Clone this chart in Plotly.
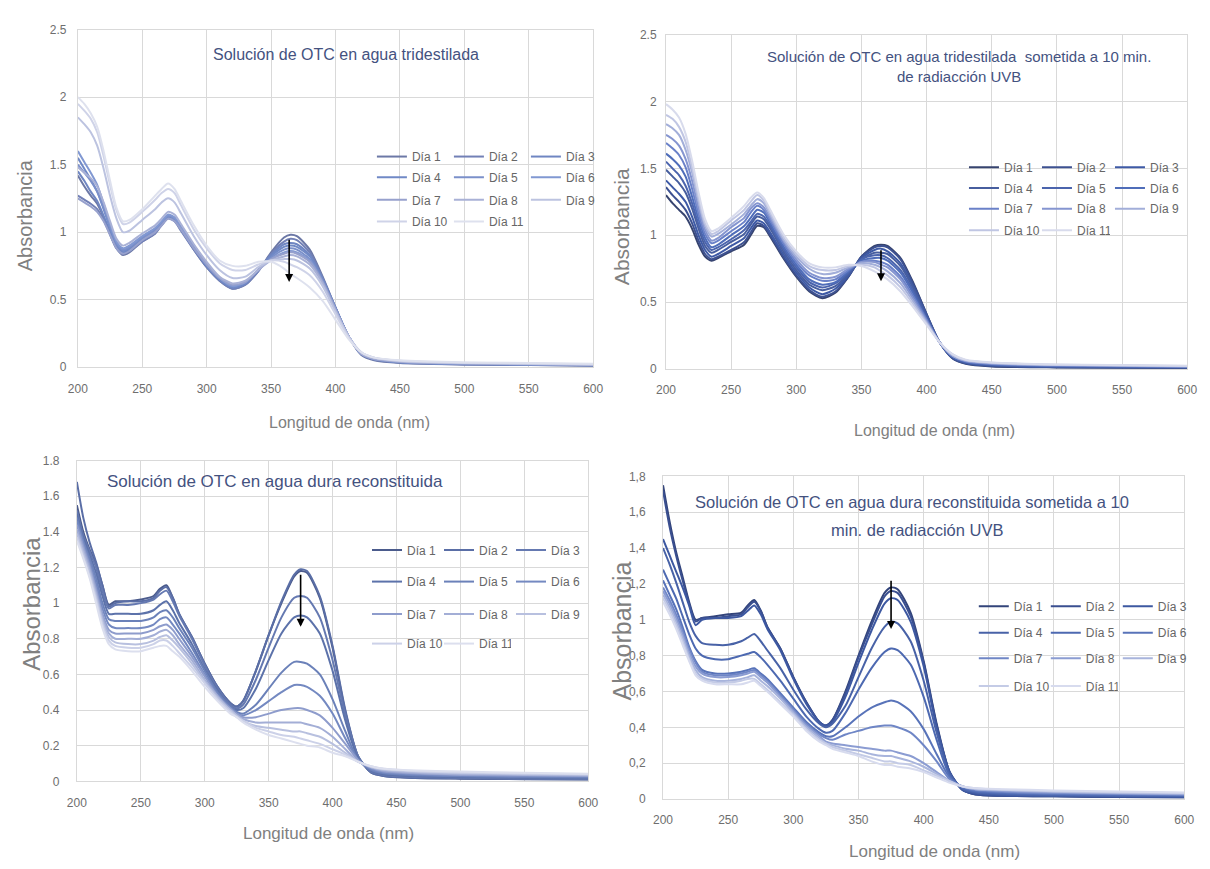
import plotly.graph_objects as go

W, H = 1210, 869

# Wavelength grids (nm)
WL_TRIDEST = [200, 205, 210, 215, 220, 225, 230, 235, 240, 250, 260, 265, 270, 275, 280, 290, 300,
              310, 320, 330, 340, 350, 360, 365, 370, 380, 390, 400, 410, 420, 430, 450, 500, 600]
WL_DURA = [200, 205, 210, 215, 220, 225, 230, 240, 250, 260, 265, 270, 275, 280, 290, 300, 310, 320,
           325, 330, 340, 350, 360, 370, 375, 380, 390, 400, 410, 420, 430, 440, 460, 500, 550, 600]

DIAS = ["Día 1", "Día 2", "Día 3", "Día 4", "Día 5", "Día 6",
        "Día 7", "Día 8", "Día 9", "Día 10", "Día 11"]

X_TICKS = [200, 250, 300, 350, 400, 450, 500, 550, 600]
Y_TICKS_TOP = [0, 0.5, 1, 1.5, 2, 2.5]
Y_TICKS_BOT = [0, 0.2, 0.4, 0.6, 0.8, 1, 1.2, 1.4, 1.6, 1.8]
Y_TEXT_BOT_COMMA = ["0", "0,2", "0,4", "0,6", "0,8", "1", "1,2", "1,4", "1,6", "1,8"]

# Absorbance tables: one row per wavelength, columns = Día 1 ... Día 11
ABS_TRIDEST = [
    [1.42, 1.27, 1.45, 1.55, 1.50, 1.60, 1.25, 1.48, 1.85, 1.95, 2.00],
    [1.34, 1.24, 1.38, 1.47, 1.44, 1.52, 1.22, 1.44, 1.80, 1.90, 1.95],
    [1.27, 1.21, 1.30, 1.39, 1.38, 1.44, 1.19, 1.40, 1.74, 1.84, 1.88],
    [1.21, 1.17, 1.23, 1.30, 1.30, 1.35, 1.15, 1.34, 1.64, 1.74, 1.78],
    [1.11, 1.09, 1.12, 1.17, 1.18, 1.21, 1.08, 1.22, 1.47, 1.56, 1.60],
    [0.99, 0.98, 1.00, 1.03, 1.04, 1.06, 0.98, 1.08, 1.27, 1.35, 1.38],
    [0.88, 0.88, 0.89, 0.91, 0.92, 0.93, 0.88, 0.95, 1.10, 1.16, 1.18],
    [0.83, 0.84, 0.85, 0.86, 0.87, 0.88, 0.84, 0.90, 1.00, 1.06, 1.08],
    [0.85, 0.86, 0.87, 0.88, 0.89, 0.90, 0.86, 0.92, 1.01, 1.07, 1.09],
    [0.93, 0.93, 0.94, 0.95, 0.96, 0.97, 0.94, 0.99, 1.09, 1.15, 1.17],
    [0.99, 0.99, 1.00, 1.01, 1.02, 1.03, 1.00, 1.05, 1.17, 1.24, 1.27],
    [1.06, 1.05, 1.06, 1.07, 1.07, 1.08, 1.05, 1.10, 1.22, 1.29, 1.32],
    [1.11, 1.10, 1.11, 1.12, 1.12, 1.13, 1.10, 1.15, 1.25, 1.32, 1.36],
    [1.09, 1.08, 1.09, 1.10, 1.10, 1.11, 1.08, 1.13, 1.22, 1.29, 1.32],
    [1.02, 1.01, 1.02, 1.03, 1.03, 1.04, 1.02, 1.06, 1.14, 1.20, 1.23],
    [0.87, 0.87, 0.88, 0.88, 0.89, 0.90, 0.88, 0.91, 0.97, 1.02, 1.05],
    [0.74, 0.74, 0.75, 0.75, 0.76, 0.77, 0.76, 0.78, 0.83, 0.88, 0.90],
    [0.64, 0.64, 0.65, 0.65, 0.66, 0.66, 0.66, 0.67, 0.72, 0.77, 0.79],
    [0.58, 0.58, 0.59, 0.59, 0.60, 0.60, 0.61, 0.62, 0.66, 0.72, 0.75],
    [0.61, 0.61, 0.62, 0.62, 0.63, 0.63, 0.63, 0.64, 0.67, 0.72, 0.75],
    [0.71, 0.71, 0.72, 0.72, 0.72, 0.72, 0.72, 0.72, 0.74, 0.76, 0.78],
    [0.85, 0.84, 0.83, 0.82, 0.81, 0.80, 0.80, 0.79, 0.79, 0.79, 0.78],
    [0.96, 0.93, 0.91, 0.89, 0.87, 0.85, 0.84, 0.82, 0.80, 0.78, 0.73],
    [0.98, 0.95, 0.92, 0.90, 0.88, 0.86, 0.85, 0.83, 0.80, 0.76, 0.69],
    [0.97, 0.94, 0.91, 0.89, 0.87, 0.85, 0.84, 0.82, 0.79, 0.74, 0.66],
    [0.87, 0.85, 0.83, 0.82, 0.80, 0.79, 0.78, 0.76, 0.73, 0.68, 0.59],
    [0.67, 0.66, 0.65, 0.65, 0.64, 0.63, 0.63, 0.62, 0.60, 0.56, 0.49],
    [0.44, 0.44, 0.44, 0.44, 0.43, 0.43, 0.43, 0.42, 0.41, 0.39, 0.35],
    [0.23, 0.23, 0.23, 0.23, 0.23, 0.23, 0.23, 0.23, 0.23, 0.22, 0.21],
    [0.09, 0.095, 0.10, 0.10, 0.10, 0.10, 0.10, 0.10, 0.11, 0.11, 0.11],
    [0.05, 0.055, 0.06, 0.06, 0.06, 0.06, 0.06, 0.065, 0.07, 0.07, 0.07],
    [0.03, 0.035, 0.035, 0.037, 0.038, 0.04, 0.04, 0.042, 0.045, 0.047, 0.05],
    [0.02, 0.02, 0.022, 0.024, 0.025, 0.026, 0.027, 0.028, 0.03, 0.032, 0.035],
    [0.01, 0.012, 0.013, 0.014, 0.015, 0.016, 0.017, 0.018, 0.02, 0.022, 0.025],
]

ABS_TRIDEST_UVB = [
    [1.30, 1.36, 1.41, 1.49, 1.55, 1.61, 1.69, 1.75, 1.83, 1.90, 1.98],
    [1.24, 1.30, 1.36, 1.44, 1.50, 1.57, 1.65, 1.72, 1.80, 1.87, 1.94],
    [1.19, 1.25, 1.31, 1.39, 1.45, 1.52, 1.60, 1.67, 1.75, 1.81, 1.88],
    [1.14, 1.19, 1.25, 1.32, 1.37, 1.44, 1.51, 1.57, 1.64, 1.70, 1.76],
    [1.05, 1.09, 1.14, 1.20, 1.24, 1.29, 1.35, 1.41, 1.47, 1.51, 1.56],
    [0.93, 0.96, 1.00, 1.05, 1.08, 1.12, 1.16, 1.20, 1.25, 1.28, 1.32],
    [0.84, 0.86, 0.89, 0.92, 0.95, 0.98, 1.01, 1.04, 1.07, 1.09, 1.12],
    [0.81, 0.82, 0.84, 0.87, 0.89, 0.91, 0.94, 0.96, 0.99, 1.01, 1.03],
    [0.83, 0.84, 0.86, 0.89, 0.91, 0.93, 0.96, 0.98, 1.01, 1.03, 1.05],
    [0.88, 0.89, 0.92, 0.95, 0.97, 1.00, 1.03, 1.06, 1.08, 1.11, 1.13],
    [0.93, 0.95, 0.98, 1.01, 1.04, 1.07, 1.10, 1.13, 1.16, 1.19, 1.22],
    [1.00, 1.02, 1.05, 1.08, 1.10, 1.13, 1.17, 1.20, 1.22, 1.25, 1.28],
    [1.07, 1.09, 1.11, 1.14, 1.16, 1.19, 1.22, 1.24, 1.27, 1.30, 1.32],
    [1.06, 1.07, 1.09, 1.12, 1.14, 1.17, 1.19, 1.21, 1.24, 1.26, 1.28],
    [0.99, 1.00, 1.02, 1.05, 1.07, 1.09, 1.11, 1.13, 1.15, 1.17, 1.19],
    [0.83, 0.84, 0.86, 0.88, 0.90, 0.92, 0.94, 0.96, 0.97, 0.99, 1.01],
    [0.69, 0.70, 0.72, 0.74, 0.76, 0.78, 0.80, 0.82, 0.84, 0.86, 0.88],
    [0.58, 0.59, 0.61, 0.63, 0.65, 0.67, 0.70, 0.72, 0.75, 0.77, 0.79],
    [0.53, 0.54, 0.56, 0.59, 0.61, 0.63, 0.66, 0.68, 0.71, 0.74, 0.76],
    [0.57, 0.58, 0.60, 0.62, 0.64, 0.65, 0.67, 0.69, 0.72, 0.74, 0.76],
    [0.69, 0.69, 0.70, 0.71, 0.72, 0.73, 0.74, 0.75, 0.76, 0.77, 0.78],
    [0.84, 0.84, 0.83, 0.82, 0.82, 0.81, 0.80, 0.80, 0.79, 0.78, 0.77],
    [0.92, 0.91, 0.89, 0.87, 0.85, 0.83, 0.81, 0.80, 0.78, 0.76, 0.73],
    [0.93, 0.92, 0.90, 0.87, 0.85, 0.83, 0.80, 0.78, 0.76, 0.73, 0.70],
    [0.92, 0.91, 0.88, 0.86, 0.83, 0.81, 0.78, 0.76, 0.73, 0.70, 0.67],
    [0.83, 0.82, 0.79, 0.77, 0.74, 0.72, 0.69, 0.67, 0.64, 0.61, 0.58],
    [0.64, 0.63, 0.61, 0.60, 0.58, 0.56, 0.54, 0.52, 0.50, 0.48, 0.46],
    [0.41, 0.41, 0.40, 0.39, 0.38, 0.37, 0.37, 0.36, 0.35, 0.34, 0.33],
    [0.20, 0.20, 0.20, 0.20, 0.20, 0.20, 0.20, 0.20, 0.20, 0.20, 0.20],
    [0.08, 0.08, 0.09, 0.09, 0.09, 0.09, 0.10, 0.10, 0.10, 0.11, 0.11],
    [0.040, 0.043, 0.046, 0.049, 0.052, 0.055, 0.058, 0.061, 0.064, 0.067, 0.070],
    [0.020, 0.023, 0.026, 0.029, 0.032, 0.035, 0.038, 0.041, 0.044, 0.047, 0.050],
    [0.012, 0.014, 0.016, 0.019, 0.021, 0.023, 0.026, 0.028, 0.030, 0.033, 0.035],
    [0.008, 0.010, 0.011, 0.013, 0.015, 0.016, 0.018, 0.020, 0.021, 0.023, 0.025],
]

ABS_DURA = [
    [1.55, 1.68, 1.52, 1.50, 1.48, 1.46, 1.44, 1.41, 1.39, 1.37, 1.35],
    [1.40, 1.48, 1.38, 1.37, 1.35, 1.34, 1.32, 1.30, 1.28, 1.26, 1.25],
    [1.30, 1.34, 1.29, 1.27, 1.25, 1.23, 1.21, 1.19, 1.17, 1.15, 1.14],
    [1.22, 1.23, 1.20, 1.17, 1.14, 1.11, 1.08, 1.06, 1.04, 1.02, 1.00],
    [1.10, 1.10, 1.07, 1.04, 1.00, 0.97, 0.94, 0.92, 0.90, 0.88, 0.86],
    [0.99, 0.98, 0.97, 0.94, 0.91, 0.88, 0.85, 0.83, 0.81, 0.79, 0.77],
    [1.01, 1.00, 0.99, 0.94, 0.90, 0.86, 0.83, 0.80, 0.78, 0.76, 0.74],
    [1.01, 1.01, 0.99, 0.94, 0.90, 0.86, 0.83, 0.80, 0.77, 0.75, 0.73],
    [1.02, 1.01, 1.00, 0.94, 0.90, 0.86, 0.83, 0.80, 0.77, 0.75, 0.73],
    [1.04, 1.03, 1.02, 0.96, 0.92, 0.88, 0.85, 0.82, 0.79, 0.77, 0.75],
    [1.08, 1.07, 1.05, 0.99, 0.95, 0.91, 0.87, 0.84, 0.81, 0.79, 0.76],
    [1.10, 1.09, 1.07, 1.01, 0.96, 0.92, 0.88, 0.85, 0.82, 0.79, 0.76],
    [1.03, 1.03, 1.01, 0.96, 0.92, 0.88, 0.85, 0.82, 0.79, 0.76, 0.73],
    [0.94, 0.94, 0.93, 0.89, 0.86, 0.83, 0.80, 0.77, 0.75, 0.72, 0.70],
    [0.81, 0.81, 0.80, 0.77, 0.75, 0.72, 0.70, 0.68, 0.66, 0.64, 0.62],
    [0.66, 0.66, 0.65, 0.63, 0.62, 0.60, 0.59, 0.57, 0.56, 0.55, 0.53],
    [0.53, 0.53, 0.52, 0.51, 0.50, 0.49, 0.48, 0.48, 0.47, 0.46, 0.45],
    [0.44, 0.44, 0.43, 0.42, 0.42, 0.41, 0.41, 0.40, 0.40, 0.39, 0.38],
    [0.42, 0.42, 0.41, 0.40, 0.39, 0.38, 0.38, 0.37, 0.37, 0.36, 0.36],
    [0.45, 0.45, 0.43, 0.41, 0.38, 0.37, 0.36, 0.35, 0.34, 0.34, 0.33],
    [0.62, 0.62, 0.57, 0.52, 0.43, 0.40, 0.36, 0.33, 0.31, 0.30, 0.29],
    [0.82, 0.82, 0.75, 0.68, 0.52, 0.45, 0.38, 0.33, 0.30, 0.28, 0.26],
    [1.00, 1.01, 0.92, 0.83, 0.61, 0.50, 0.40, 0.33, 0.29, 0.26, 0.24],
    [1.15, 1.16, 1.03, 0.92, 0.67, 0.54, 0.41, 0.33, 0.28, 0.25, 0.22],
    [1.18, 1.19, 1.04, 0.93, 0.67, 0.54, 0.41, 0.33, 0.28, 0.24, 0.21],
    [1.17, 1.18, 1.03, 0.92, 0.66, 0.53, 0.40, 0.32, 0.27, 0.23, 0.20],
    [1.03, 1.04, 0.92, 0.83, 0.60, 0.48, 0.37, 0.30, 0.25, 0.21, 0.19],
    [0.75, 0.76, 0.68, 0.62, 0.46, 0.38, 0.30, 0.25, 0.21, 0.18, 0.16],
    [0.39, 0.40, 0.37, 0.34, 0.28, 0.24, 0.21, 0.18, 0.16, 0.15, 0.14],
    [0.14, 0.14, 0.14, 0.13, 0.12, 0.12, 0.12, 0.11, 0.11, 0.11, 0.11],
    [0.05, 0.05, 0.055, 0.06, 0.065, 0.07, 0.075, 0.08, 0.08, 0.085, 0.085],
    [0.03, 0.03, 0.035, 0.04, 0.045, 0.05, 0.055, 0.06, 0.065, 0.07, 0.07],
    [0.02, 0.02, 0.025, 0.03, 0.035, 0.04, 0.045, 0.05, 0.055, 0.06, 0.062],
    [0.015, 0.016, 0.02, 0.024, 0.028, 0.032, 0.036, 0.04, 0.045, 0.05, 0.055],
    [0.012, 0.013, 0.016, 0.02, 0.024, 0.028, 0.032, 0.036, 0.04, 0.044, 0.048],
    [0.01, 0.011, 0.014, 0.018, 0.022, 0.026, 0.03, 0.033, 0.037, 0.04, 0.043],
]

ABS_DURA_UVB = [
    [1.75, 1.72, 1.45, 1.40, 1.28, 1.22, 1.18, 1.16, 1.14, 1.12, 1.10],
    [1.55, 1.52, 1.36, 1.31, 1.20, 1.14, 1.11, 1.09, 1.07, 1.05, 1.03],
    [1.38, 1.36, 1.27, 1.21, 1.12, 1.06, 1.03, 1.01, 0.99, 0.97, 0.95],
    [1.24, 1.22, 1.18, 1.10, 1.02, 0.96, 0.94, 0.92, 0.90, 0.88, 0.86],
    [1.10, 1.09, 1.08, 0.99, 0.92, 0.85, 0.84, 0.82, 0.80, 0.78, 0.77],
    [1.00, 0.99, 0.97, 0.91, 0.84, 0.77, 0.76, 0.74, 0.72, 0.70, 0.69],
    [1.01, 1.01, 1.00, 0.87, 0.80, 0.72, 0.71, 0.70, 0.68, 0.67, 0.66],
    [1.02, 1.01, 1.01, 0.86, 0.78, 0.70, 0.69, 0.68, 0.66, 0.65, 0.64],
    [1.03, 1.02, 1.01, 0.86, 0.78, 0.70, 0.69, 0.68, 0.66, 0.65, 0.64],
    [1.04, 1.03, 1.02, 0.88, 0.80, 0.71, 0.70, 0.69, 0.67, 0.66, 0.64],
    [1.08, 1.07, 1.05, 0.90, 0.81, 0.72, 0.71, 0.70, 0.68, 0.67, 0.65],
    [1.11, 1.10, 1.08, 0.92, 0.82, 0.73, 0.72, 0.71, 0.69, 0.67, 0.66],
    [1.05, 1.05, 1.03, 0.88, 0.79, 0.70, 0.69, 0.68, 0.66, 0.64, 0.63],
    [0.96, 0.96, 0.95, 0.83, 0.75, 0.67, 0.66, 0.65, 0.63, 0.61, 0.60],
    [0.84, 0.84, 0.83, 0.73, 0.66, 0.59, 0.58, 0.57, 0.56, 0.54, 0.53],
    [0.68, 0.68, 0.67, 0.61, 0.56, 0.51, 0.50, 0.49, 0.48, 0.47, 0.46],
    [0.54, 0.54, 0.53, 0.50, 0.46, 0.43, 0.42, 0.41, 0.40, 0.39, 0.38],
    [0.43, 0.43, 0.43, 0.42, 0.39, 0.37, 0.36, 0.35, 0.34, 0.33, 0.32],
    [0.41, 0.41, 0.41, 0.40, 0.37, 0.35, 0.34, 0.32, 0.31, 0.31, 0.30],
    [0.44, 0.44, 0.43, 0.42, 0.38, 0.35, 0.33, 0.31, 0.30, 0.29, 0.28],
    [0.60, 0.59, 0.57, 0.52, 0.48, 0.40, 0.36, 0.30, 0.28, 0.27, 0.26],
    [0.80, 0.79, 0.76, 0.68, 0.61, 0.46, 0.38, 0.29, 0.27, 0.25, 0.24],
    [0.99, 0.97, 0.94, 0.84, 0.73, 0.51, 0.40, 0.28, 0.25, 0.23, 0.21],
    [1.15, 1.13, 1.09, 0.96, 0.82, 0.54, 0.41, 0.27, 0.24, 0.21, 0.19],
    [1.18, 1.16, 1.12, 0.99, 0.84, 0.55, 0.41, 0.27, 0.24, 0.21, 0.19],
    [1.17, 1.15, 1.11, 0.98, 0.83, 0.54, 0.40, 0.26, 0.23, 0.20, 0.18],
    [1.04, 1.02, 0.99, 0.88, 0.75, 0.49, 0.37, 0.24, 0.21, 0.19, 0.17],
    [0.77, 0.76, 0.74, 0.66, 0.57, 0.39, 0.30, 0.20, 0.18, 0.16, 0.15],
    [0.42, 0.41, 0.40, 0.37, 0.33, 0.25, 0.21, 0.15, 0.14, 0.13, 0.12],
    [0.15, 0.15, 0.15, 0.14, 0.13, 0.12, 0.11, 0.10, 0.10, 0.10, 0.09],
    [0.05, 0.05, 0.05, 0.055, 0.06, 0.065, 0.07, 0.07, 0.07, 0.07, 0.07],
    [0.025, 0.025, 0.03, 0.035, 0.04, 0.045, 0.05, 0.055, 0.055, 0.06, 0.06],
    [0.018, 0.018, 0.02, 0.025, 0.03, 0.035, 0.04, 0.045, 0.05, 0.052, 0.055],
    [0.015, 0.015, 0.017, 0.02, 0.024, 0.028, 0.032, 0.036, 0.04, 0.044, 0.048],
    [0.012, 0.012, 0.014, 0.017, 0.02, 0.024, 0.028, 0.031, 0.034, 0.038, 0.042],
    [0.01, 0.01, 0.012, 0.015, 0.018, 0.021, 0.024, 0.027, 0.03, 0.033, 0.036],
]

COL_TRIDEST = ["#6c78a6", "#7280b6", "#6f86c2", "#7089c6", "#7b90ca", "#8198d2",
               "#97a1cd", "#a9b1d6", "#bcc3e0", "#cfd3e8", "#dee1ee"]
COL_TRIDEST_UVB = ["#37446f", "#3d5191", "#3e5aa6", "#475e9e", "#4b64ad", "#4f6db9",
                   "#6a81c8", "#8595d0", "#a2aed9", "#c0c6e3", "#d8dbec"]
COL_DURA = ["#4b5b8c", "#5a6ea6", "#6579b1", "#5c72aa", "#6b81b9", "#7489c1",
            "#8e9ccc", "#a3aed6", "#b8c0df", "#ccd1e8", "#dcdfee"]
COL_DURA_UVB = ["#33447a", "#3a4f90", "#3d58a1", "#4862a7", "#4d69b1", "#5873b9",
                "#6f86c6", "#8b9cd2", "#a8b4dc", "#c4cbe6", "#d7dbee"]

TITLE_COLOR = "#44527f"
AXIS_TITLE_COLOR = "#808080"
TICK_COLOR = "#6e6e6e"
GRID_COLOR = "#d9d9d9"
NARROW = "Liberation Sans Narrow, Arial Narrow, Liberation Sans, Arial, sans-serif"
SANS = "Liberation Sans, Arial, sans-serif"

# Panel layout, all positions in page pixels
PANELS = [
    dict(wl=WL_TRIDEST, rows=ABS_TRIDEST, colors=COL_TRIDEST,
         xpx=(69, 593), ypx=(366, 23), yr=(0, 2.5), yticks=Y_TICKS_TOP, ytext=None,
         titles=[("Solución de OTC en agua tridestilada", 342, 48)], tsize=16,
         xtitle=(345, 422, 16), ytitle=(15, 212, 20), ystand=8,
         leg_x=368, leg_rows=(152, 173, 196, 218), entry=32,
         arrow=(364, 0.955, 0.63)),
    dict(wl=WL_TRIDEST, rows=ABS_TRIDEST_UVB, colors=COL_TRIDEST_UVB,
         xpx=(667, 1197), ypx=(368, 28), yr=(0, 2.5), yticks=Y_TICKS_TOP, ytext=None,
         titles=[("Solución de OTC en agua tridestilada  sometida a 10 min.", 965, 50),
                 ("de radiacción UVB", 965, 71)], tsize=15,
         xtitle=(940, 430, 16), ytitle=(622, 223, 21), ystand=6,
         leg_x=970, leg_rows=(163, 184, 205, 227), entry=28,
         arrow=(365, 0.90, 0.657)),
    dict(wl=WL_DURA, rows=ABS_DURA, colors=COL_DURA,
         xpx=(68, 588), ypx=(787, 461), yr=(0, 1.8), yticks=Y_TICKS_BOT, ytext=None,
         titles=[("Solución de OTC en agua dura reconstituida", 269, 482)], tsize=17,
         xtitle=(324, 840, 17), ytitle=(22, 607, 24), ystand=14,
         leg_x=363, leg_rows=(552, 584, 617, 647), entry=27,
         arrow=(375, 1.168, 0.867)),
    dict(wl=WL_DURA, rows=ABS_DURA_UVB, colors=COL_DURA_UVB,
         xpx=(664, 1194), ypx=(805, 477), yr=(0, 1.8), yticks=Y_TICKS_BOT, ytext=Y_TEXT_BOT_COMMA,
         titles=[("Solución de OTC en agua dura reconstituida sometida a 10", 917, 503),
                 ("min. de radiacción UVB", 922, 532)], tsize=16.5,
         xtitle=(940, 858, 17), ytitle=(622, 634, 25), ystand=14,
         leg_x=980, leg_rows=(609, 636, 662, 690), entry=27,
         arrow=(375, 1.226, 0.949)),
]


def fx(px):
    return px / W


def fy(py):
    return 1 - py / H


fig = go.Figure()
layout = dict(
    width=W, height=H,
    margin=dict(l=0, r=0, t=0, b=0),
    paper_bgcolor="white", plot_bgcolor="white",
    showlegend=True,
    annotations=[],
)

for p, spec in enumerate(PANELS):
    n = p + 1
    xa = "x" if n == 1 else f"x{n}"
    ya = "y" if n == 1 else f"y{n}"
    xkey = "xaxis" if n == 1 else f"xaxis{n}"
    ykey = "yaxis" if n == 1 else f"yaxis{n}"

    # spectra, one line per day
    for k, name in enumerate(DIAS):
        leg_idx = p * 4 + k // 3 + 1
        leg_name = "legend" if leg_idx == 1 else f"legend{leg_idx}"
        fig.add_trace(go.Scatter(
            x=spec["wl"], y=[row[k] for row in spec["rows"]],
            mode="lines", name=name,
            line=dict(color=spec["colors"][k], width=2, shape="spline", smoothing=0.7),
            xaxis=xa, yaxis=ya, legend=leg_name, showlegend=True,
            hoverinfo="x+y+name",
        ))

    common = dict(
        showgrid=True, gridcolor=GRID_COLOR, gridwidth=1,
        showline=True, linecolor=GRID_COLOR, linewidth=1, mirror=True,
        zeroline=False, ticks="", fixedrange=True,
        tickfont=dict(family=NARROW, size=12, color=TICK_COLOR),
    )
    layout[xkey] = dict(
        common, domain=[fx(spec["xpx"][0]), fx(spec["xpx"][1])], range=[200, 600],
        tickvals=X_TICKS, anchor=ya, ticklabelstandoff=10,
    )
    ydict = dict(
        common, domain=[fy(spec["ypx"][0]), fy(spec["ypx"][1])], range=list(spec["yr"]),
        tickvals=spec["yticks"], anchor=xa, ticklabelstandoff=spec["ystand"],
    )
    if spec["ytext"] is not None:
        ydict["ticktext"] = spec["ytext"]
    layout[ykey] = ydict

    # legends: one horizontal legend per row of three entries
    for r, ry in enumerate(spec["leg_rows"]):
        leg_idx = p * 4 + r + 1
        leg_key = "legend" if leg_idx == 1 else f"legend{leg_idx}"
        layout[leg_key] = dict(
            orientation="h", x=fx(spec["leg_x"]), y=fy(ry),
            xanchor="left", yanchor="middle",
            entrywidth=spec["entry"], entrywidthmode="pixels",
            bgcolor="rgba(0,0,0,0)", borderwidth=0,
            font=dict(family=NARROW, size=12, color="#666666"),
            traceorder="normal",
        )

    # chart titles
    for text, tx, ty in spec["titles"]:
        layout["annotations"].append(dict(
            text=text, x=fx(tx), y=fy(ty), xref="paper", yref="paper",
            xanchor="center", yanchor="middle", showarrow=False,
            font=dict(family=SANS, size=spec["tsize"], color=TITLE_COLOR),
        ))

    # axis titles
    tx, ty, ts = spec["xtitle"]
    layout["annotations"].append(dict(
        text="Longitud de onda (nm)", x=fx(tx), y=fy(ty), xref="paper", yref="paper",
        xanchor="center", yanchor="middle", showarrow=False,
        font=dict(family=SANS, size=ts, color=AXIS_TITLE_COLOR),
    ))
    tx, ty, ts = spec["ytitle"]
    layout["annotations"].append(dict(
        text="Absorbancia", x=fx(tx), y=fy(ty), xref="paper", yref="paper",
        xanchor="center", yanchor="middle", showarrow=False, textangle=-90,
        font=dict(family=SANS, size=ts, color=AXIS_TITLE_COLOR),
    ))

    # downward arrow over the main absorption band
    ax_wl, y_from, y_to = spec["arrow"]
    layout["annotations"].append(dict(
        x=ax_wl, y=y_to, ax=ax_wl, ay=y_from, xref=xa, yref=ya, axref=xa, ayref=ya,
        text="", showarrow=True, arrowhead=2, arrowsize=1, arrowwidth=1.6,
        arrowcolor="black",
    ))

fig.update_layout(**layout)
fig.write_html("out.html")
